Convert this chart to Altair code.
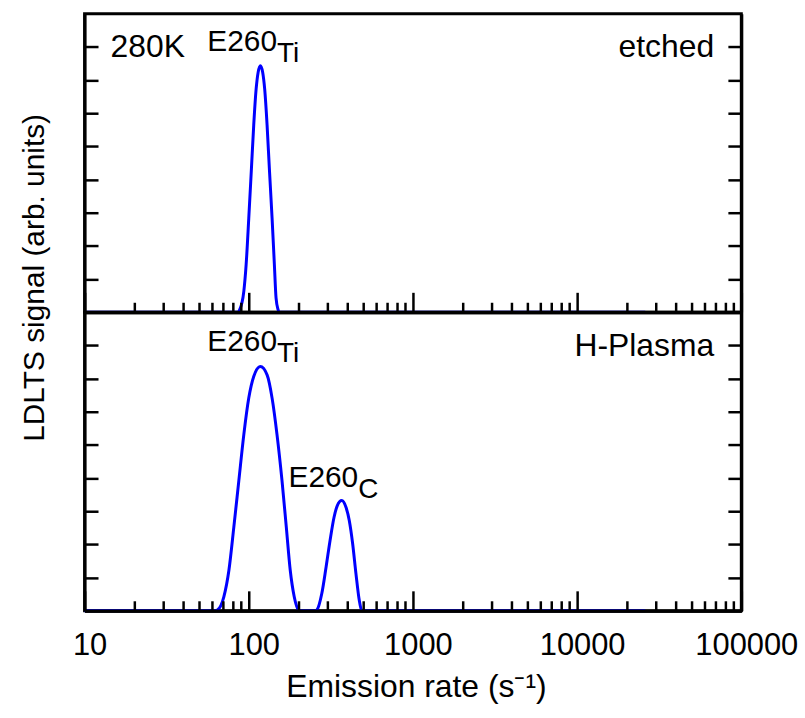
import altair as alt
import pandas as pd

# ---------------- data ----------------
top_rate = [10, 86, 87.8, 93.3, 96.4, 100.0, 103.8, 107.2, 110.9, 114.0, 117.7,
            121.6, 125.0, 129.3, 133.5, 138.7, 143.2, 146.6, 150.8, 153, 26000]
top_signal = [0, 0, 0.06, 0.63, 1.44, 2.83, 4.33, 5.64, 6.73, 7.23, 7.43,
              7.23, 6.73, 5.64, 4.33, 2.83, 1.44, 0.43, 0.08, 0, 0]

bot_rate = [10, 62, 64.3, 70.5, 75.7, 81.1, 87.0, 93.3, 100, 107.2, 117.7, 129.3,
            138.7, 148.6, 159.4, 169.3, 178.9, 189.2, 200.9, 205, 255, 259.8, 278.5,
            295.8, 312.7, 330.7, 346.2, 368.3, 391.0, 409.4, 429.3, 449.6, 470.8,
            486.8, 492, 26000]
bot_signal = [0, 0, 0.02, 0.42, 1.22, 2.52, 3.92, 5.31, 6.41, 7.06, 7.36, 7.11,
              6.41, 5.31, 3.92, 2.52, 1.22, 0.42, 0.02, 0, 0, 0.02, 0.52,
              1.32, 2.12, 2.82, 3.17, 3.32, 3.12, 2.72, 2.02, 1.12, 0.32,
              0.01, 0, 0]

major_ticks = [10, 100, 1000, 10000, 100000]
minor_ticks = [m * d for d in (10, 100, 1000, 10000) for m in range(2, 10)]
y_ticks = [1, 2, 3, 4, 5, 6, 7, 8]

# annotations: (rate, signal, text)
top_peak_labels = [(148.6, 7.88, "E260", "Ti")]
bot_peak_labels = [(148.6, 7.82, "E260", "Ti"), (464.0, 3.72, "E260", "C")]
top_left_note = [(14.4, 7.68, "280K")]
top_right_note = [(68300, 7.68, "etched")]
bot_right_note = [(68300, 7.68, "H-Plasma")]

# ---------------- chart ----------------
W, H = 660, 300
FONT = "Liberation Sans"
BLUE = "#0000ff"

x_scale = alt.Scale(type="log", domain=[10, 100000], nice=False)
y_scale = alt.Scale(domain=[0, 9], nice=False, zero=False)


def tick_axis_x(values, size):
    return alt.Axis(orient="top", offset=-H, values=values, tickSize=size,
                    tickWidth=2.5, tickColor="black", labels=False,
                    domain=True, domainColor="black", domainWidth=3,
                    grid=False, title=None, zindex=1)


def tick_axis_y(orient, title=None):
    kw = dict(orient=orient, offset=-W, values=y_ticks, tickSize=13.5,
              tickWidth=2.5, tickColor="black", labels=False, domain=True,
              domainColor="black", domainWidth=3, grid=False, zindex=1)
    if title:
        kw.update(title=title, titleX=-50, titleY=265, titleAngle=270,
                  titleAlign="center", titleBaseline="middle", titleFont=FONT,
                  titleFontSize=30, titleFontWeight="normal", titleColor="black")
    else:
        kw.update(title=None)
    return alt.Axis(**kw)


def text_layers(peaks, left_notes, right_notes):
    layers = []
    pk = pd.DataFrame(peaks, columns=["rate", "signal", "main", "sub"])
    enc = dict(x=alt.X("rate:Q", scale=x_scale, axis=None),
               y=alt.Y("signal:Q", scale=y_scale, axis=None))
    layers.append(alt.Chart(pk).mark_text(align="right", baseline="alphabetic",
                                          font=FONT, fontSize=30, color="black")
                  .encode(text="main:N", **enc))
    layers.append(alt.Chart(pk).mark_text(align="left", baseline="alphabetic",
                                          font=FONT, fontSize=28, color="black", dy=11)
                  .encode(text="sub:N", **enc))
    if left_notes:
        ln = pd.DataFrame(left_notes, columns=["rate", "signal", "t"])
        layers.append(alt.Chart(ln).mark_text(align="left", baseline="alphabetic",
                                              font=FONT, fontSize=32, color="black")
                      .encode(text="t:N", **enc))
    rn = pd.DataFrame(right_notes, columns=["rate", "signal", "t"])
    layers.append(alt.Chart(rn).mark_text(align="right", baseline="alphabetic",
                                          font=FONT, fontSize=32, color="black")
                  .encode(text="t:N", **enc))
    return layers


def panel(rate, signal, peaks, left_notes, right_notes, ytitle, bottom):
    df = pd.DataFrame({"rate": rate, "signal": signal})
    base = alt.Chart(df)
    line = base.mark_line(color=BLUE, strokeWidth=3, interpolate="monotone").encode(
        x=alt.X("rate:Q", scale=x_scale, axis=tick_axis_x(major_ticks, 20)),
        y=alt.Y("signal:Q", scale=y_scale, axis=tick_axis_y("right", ytitle)),
    )
    minor = base.mark_point(opacity=0).encode(
        x=alt.X("rate:Q", scale=x_scale, axis=tick_axis_x(minor_ticks, 10)),
        y=alt.Y("signal:Q", scale=y_scale, axis=tick_axis_y("left")),
    )
    layers = [line, minor]
    if bottom:
        lab = base.mark_point(opacity=0).encode(
            x=alt.X("rate:Q", scale=x_scale,
                    axis=alt.Axis(orient="bottom", values=major_ticks, format="d",
                                  ticks=False, tickSize=0, domain=False, grid=False,
                                  labelFont=FONT, labelFontSize=31, labelColor="black",
                                  labelPadding=20, labelFlush=False, labelOverlap=False,
                                  labelOffset=5,
                                  title="Emission rate (s\u207b\u00b9)",
                                  titleFont=FONT, titleFontSize=32,
                                  titleFontWeight="normal", titleColor="black",
                                  titleBaseline="alphabetic", titleX=W / 2 + 3,
                                  titleY=86)),
            y=alt.Y("signal:Q", scale=y_scale, axis=None),
        )
        layers.append(lab)
    layers += text_layers(peaks, left_notes, right_notes)
    return alt.layer(*layers).resolve_axis(x="independent", y="independent").properties(
        width=W, height=H)


top = panel(top_rate, top_signal, top_peak_labels, top_left_note, top_right_note,
            "LDLTS signal (arb. units)", False)
bottom = panel(bot_rate, bot_signal, bot_peak_labels, None, bot_right_note,
               None, True)

chart = alt.vconcat(top, bottom, spacing=0, bounds="flush").properties(
    padding={"left": 18, "top": 10, "right": 5, "bottom": 5}
).configure(font=FONT).configure_view(stroke="black", strokeWidth=3)

chart.save("out.html", embed_options={"renderer": "svg", "actions": False})
